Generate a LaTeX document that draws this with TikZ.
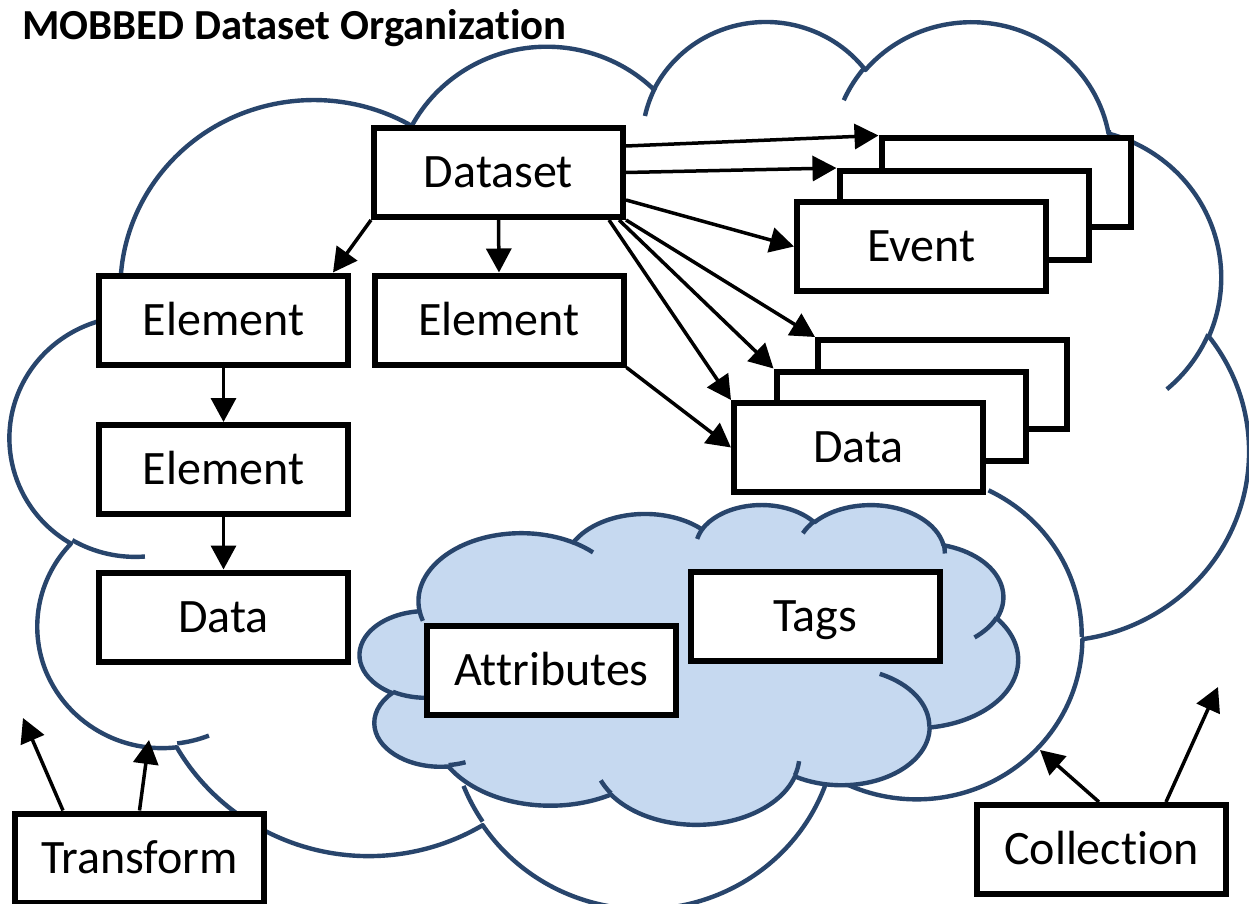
\documentclass[tikz,border=0pt]{standalone}
\usepackage{fontspec}
\setmainfont[Ligatures=NoCommon]{Carlito}
\usetikzlibrary{arrows.meta,calc}
\definecolor{cloudline}{RGB}{40,69,108}
\definecolor{cloudfill}{RGB}{198,217,240}

% arc in OOXML convention: wR, hR, start angle, sweep angle (visual angles, degrees)
\newcommand\carc[4]{\pgfextra{%
  \pgfmathsetmacro\cldS{atan2((#1)*sin(#3),(#2)*cos(#3))}\global\let\cldS\cldS
  \pgfmathsetmacro\cldE{atan2((#1)*sin((#3)+(#4)),(#2)*cos((#3)+(#4)))}\global\let\cldE\cldE
  \pgfmathsetmacro\cldD{(#4)+Mod(\cldE-\cldS-(#4)+180,360)-180}\global\let\cldD\cldD
  } arc[start angle=\cldS, delta angle=\cldD, x radius=#1, y radius=#2]}

\newcommand\cloudmain{(3.900,14.370)
  \carc{6.753}{9.190}{-190.4875}{123.7805}
  \carc{5.333}{7.267}{-144.1024}{89.9452}
  \carc{4.365}{5.945}{-145.8079}{99.7230}
  \carc{4.857}{6.595}{-130.9861}{117.2417}
  \carc{5.333}{7.273}{-78.7089}{109.0269}
  \carc{6.775}{9.220}{-46.2673}{130.2690}
  \carc{5.785}{7.867}{0.6250}{114.0333}
  \carc{6.752}{9.215}{22.4516}{115.1726}
  \carc{7.720}{10.543}{66.2426}{75.7110}
  \carc{4.360}{5.918}{-274.9421}{146.7356}
  \carc{4.345}{5.945}{-246.8285}{152.5189}
  -- cycle}

\newcommand\cloudstubs{(4.693,26.177) \carc{4.345}{5.945}{86.7420}{26.4295}
  (6.928,34.899) \carc{4.360}{5.918}{73.6105}{11.4475}
  (16.478,39.090) \carc{6.752}{9.215}{137.6242}{14.0811}
  (28.827,34.751) \carc{6.752}{9.215}{6.4533}{15.9984}
  (34.129,22.954) \carc{5.785}{7.867}{-70.2924}{70.9174}
  (41.798,15.354) \carc{5.333}{7.273}{30.3180}{27.7515}
  (38.324,5.426) \carc{4.857}{6.595}{-13.7443}{14.8589}
  (29.078,3.952) \carc{4.857}{6.595}{-149.1815}{18.1954}
  (22.141,4.720) \carc{4.365}{5.945}{-163.4943}{17.6864}
  (14.000,5.192) \carc{6.753}{9.190}{-66.7070}{12.3194}
  (4.127,15.789) \carc{6.753}{9.190}{157.6544}{11.8582}}

\tikzset{
  cloudpen/.style={draw=cloudline, line width=2.2pt},
  box/.style={draw=black, line width=3pt, fill=white, minimum width=124.5pt,
    minimum height=44.5pt, inner sep=0pt, text height=15.4pt, text depth=0pt,
    font=\fontsize{24}{28}\selectfont},
  arr/.style={line width=1.75pt, -{Triangle[length=12pt,width=12.5pt]}},
  titlefont/.style={font=\bfseries\fontsize{21.4}{25}\selectfont}
}

\begin{document}
\begin{tikzpicture}[x=0.5pt,y=-0.5pt]
\useasboundingbox (0,0) rectangle (1249,904);
\fill[white] (0,0) rectangle (1249,904);

% outer cloud
\begin{scope}[shift={(10.4,19.1)},x=14.33pt,y=-10.265pt]
  \path[cloudpen, line join=round] \cloudmain;
  \path[cloudpen] \cloudstubs;
\end{scope}

% inner cloud
\begin{scope}[shift={(360,504)},x=7.615pt,y=-3.70pt]
  \path[cloudpen, fill=cloudfill, line join=round] \cloudmain;
  \path[cloudpen] \cloudstubs;
\end{scope}

\node[titlefont, anchor=base west, inner sep=0pt] (title) at (22,40) {MOBBED Dataset Organization};

% boxes
\node[box] (ds)  at (498.5,172.5) {Dataset};
\node[box] (el1) at (223.5,320) {Element};
\node[box] (el2) at (499,320) {Element};
\node[box] (el3) at (223.5,469.5) {Element};
\node[box] (dl)  at (223.5,617) {Data};

\node[box] (evb) at (1006,183) {};
\node[box] (evm) at (964,215.5) {};
\node[box] (evf) at (921.5,246.5) {Event};

\node[box] (dtb) at (942.5,384.5) {};
\node[box] (dtm) at (901,416) {};
\node[box] (dtf) at (858.5,447.5) {Data};

\node[box] (tags) at (815,616.5) {Tags};
\node[box] (attr) at (551.5,670.5) {Attributes};

\node[box] (tr) at (139.5,858) {Transform};
\node[box] (co) at (1101.5,849.5) {Collection};

% free ends
\coordinate (tA) at (23,718);
\coordinate (tB) at (149,740);
\coordinate (cA) at (1040,750);
\coordinate (cB) at (1218,687);

% connectors
\draw[arr] ($(ds.east)+(0,-26.5)$) -- (evb.north west);
\draw[arr] (ds.east) -- (evm.north west);
\draw[arr] ($(ds.east)+(0,27.5)$) -- (evf.west);
\draw[arr] (ds.south east) -- (dtb.north west);
\draw[arr] ($(ds.south east)+(-7,0)$) -- (dtm.north west);
\draw[arr] ($(ds.south east)+(-17,0)$) -- (dtf.north west);
\draw[arr] (ds.south west) -- ($(el1.north east)+(-18,0)$);
\draw[arr] (ds.south) -- (el2.north);
\draw[arr] (el1.south) -- (el3.north);
\draw[arr] (el3.south) -- (dl.north);
\draw[arr] (el2.south east) -- (dtf.west);
\draw[arr] ($(tr.north)+(-76.5,0)$) -- (tA);
\draw[arr] (tr.north) -- (tB);
\draw[arr] ($(co.north)+(-2.5,0)$) -- (cA);
\draw[arr] ($(co.north)+(64.5,0)$) -- (cB);
\end{tikzpicture}
\end{document}
